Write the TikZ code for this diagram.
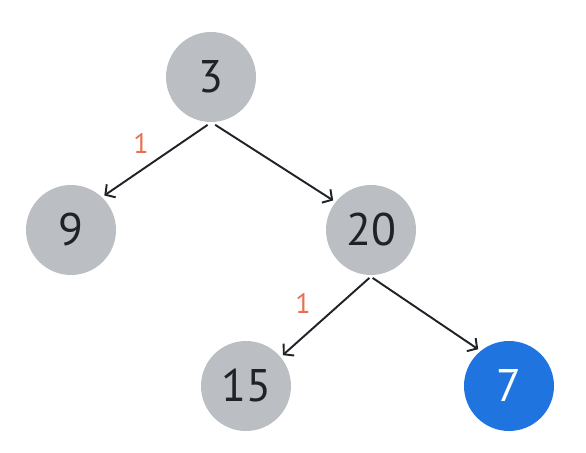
\documentclass[tikz,border=0pt]{standalone}
\usepackage{fontspec}
\setmainfont{PT Sans}
\usetikzlibrary{arrows.meta}
\definecolor{nodegray}{HTML}{BBBEC2}
\definecolor{nodeblue}{HTML}{2074E0}
\definecolor{inkdark}{HTML}{1F2328}
\definecolor{weight}{HTML}{E8704F}
\begin{document}
\begin{tikzpicture}[x=0.02cm,y=-0.02cm,
  treenode/.style={circle,fill=nodegray,minimum size=1.8cm,inner sep=0pt,
    outer sep=0.06cm,text=inkdark,font=\fontsize{26}{26}\selectfont},
  hinode/.style={treenode,fill=nodeblue,text=white},
  link/.style={draw=inkdark,line width=1.1pt,-{Straight Barb[length=4pt,width=9pt]}},
  wlabel/.style={text=weight,font=\fontsize{16}{16}\selectfont}]
  \useasboundingbox (0,0) rectangle (586,453);
  % tree nodes
  \node[treenode] (n3)  at (211,77)  {3};
  \node[treenode] (n9)  at (71,230)  {9};
  \node[treenode] (n20) at (371,230) {20};
  \node[treenode] (n15) at (246,386) {15};
  \node[hinode]   (n7)  at (509,386) {7};
  % edges
  \draw[link] (n3.266)  -- (n9.46);
  \draw[link] (n3.275)  -- (n20.142);
  \draw[link] (n20.268) -- (n15.40);
  \draw[link] (n20.272) -- (n7.130);
  % edge weights
  \node[wlabel] (w1) at (141,143) {1};
  \node[wlabel] (w2) at (303,303) {1};
\end{tikzpicture}
\end{document}
